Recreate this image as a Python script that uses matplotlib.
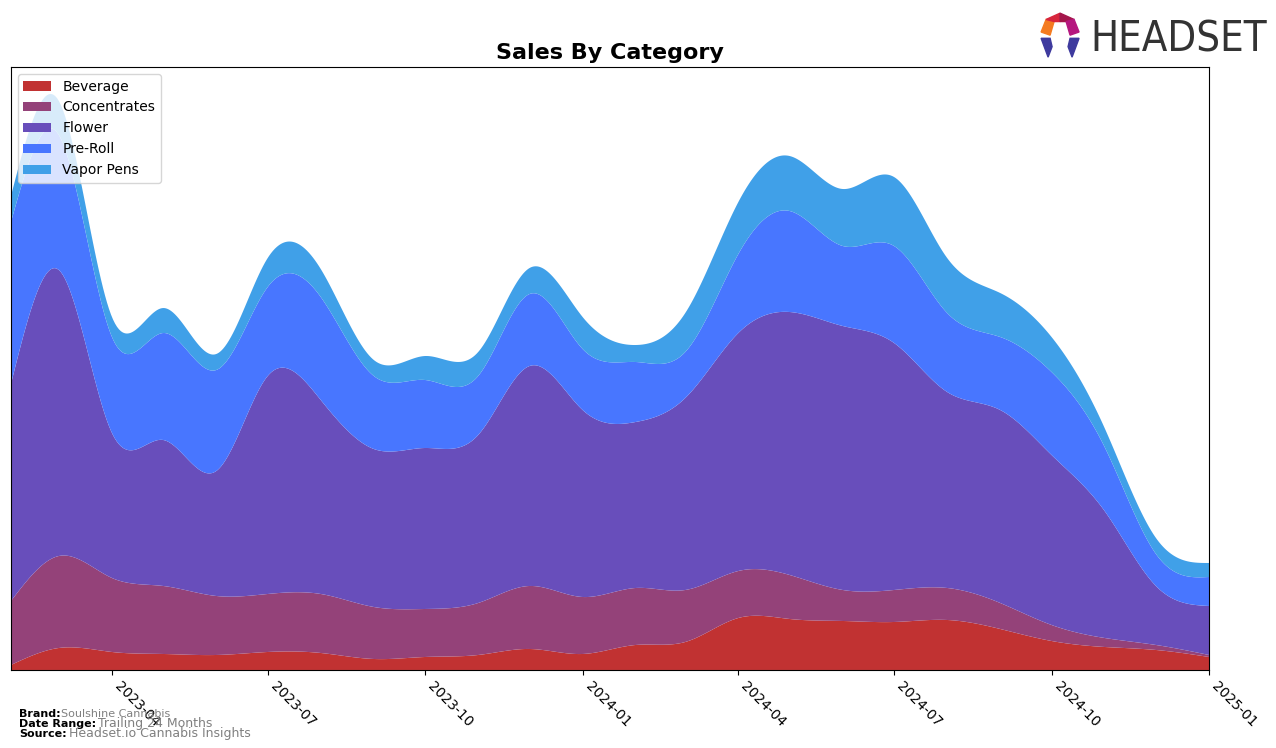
import numpy as np
import pandas as pd
import matplotlib
matplotlib.use("Agg")
import matplotlib.pyplot as plt
import matplotlib.dates as mdates
from matplotlib.patches import Polygon

# monthly sales by category (arbitrary units)
months = pd.date_range("2023-02-01", "2025-01-01", freq="MS")
beverage = [5, 22, 18, 16, 15, 18, 17, 11, 13, 15, 21, 16,
            25, 28, 52, 51, 49, 48, 50, 41, 29, 23, 20, 13]
concentrates = [64, 92, 74, 68, 59, 58, 59, 52, 48, 52, 63, 57,
                57, 52, 47, 44, 31, 32, 32, 26, 16, 9, 5, 2]
flower = [217, 286, 145, 146, 125, 218, 194, 158, 161, 168, 220, 187,
          166, 192, 238, 263, 264, 247, 196, 193, 170, 127, 59, 49]
pre_roll = [162, 135, 96, 107, 101, 89, 103, 73, 68, 59, 72, 61,
            60, 46, 79, 101, 80, 97, 79, 73, 83, 64, 32, 29]
vapor_pens = [26, 34, 20, 25, 16, 29, 28, 16, 24, 24, 26, 32,
              17, 39, 52, 55, 57, 69, 55, 44, 35, 19, 16, 14]

labels = ["Beverage", "Concentrates", "Flower", "Pre-Roll", "Vapor Pens"]
colors = ["#C13232", "#944279", "#684EBB", "#4876FF", "#40A0E8"]


def spline(x, y, xs):
    # natural cubic spline
    x = np.asarray(x, float)
    y = np.asarray(y, float)
    n = len(x)
    h = np.diff(x)
    A = np.zeros((n, n))
    r = np.zeros(n)
    A[0, 0] = 1
    A[-1, -1] = 1
    for i in range(1, n - 1):
        A[i, i - 1] = h[i - 1]
        A[i, i] = 2 * (h[i - 1] + h[i])
        A[i, i + 1] = h[i]
        r[i] = 6 * ((y[i + 1] - y[i]) / h[i] - (y[i] - y[i - 1]) / h[i - 1])
    M = np.linalg.solve(A, r)
    idx = np.clip(np.searchsorted(x, xs) - 1, 0, n - 2)
    x0, x1 = x[idx], x[idx + 1]
    hh = x1 - x0
    return (M[idx] * (x1 - xs) ** 3 / (6 * hh) + M[idx + 1] * (xs - x0) ** 3 / (6 * hh)
            + (y[idx] / hh - M[idx] * hh / 6) * (x1 - xs)
            + (y[idx + 1] / hh - M[idx + 1] * hh / 6) * (xs - x0))


xd = mdates.date2num(months)
xs = np.linspace(xd[0], xd[-1], 600)
series = [beverage, concentrates, flower, pre_roll, vapor_pens]
smooth = [np.clip(spline(xd, s, xs), 0, None) for s in series]

fig = plt.figure(figsize=(12.76, 7.48), dpi=100)
ax = fig.add_axes([0.0086, 0.1043, 0.9389, 0.8061])
ax.stackplot(xs, smooth, labels=labels, colors=colors)
ax.set_xlim(xd[0], xd[-1])
ax.set_ylim(0, 603)
ax.set_yticks([])
ax.xaxis.set_major_locator(mdates.MonthLocator(bymonth=[1, 4, 7, 10]))
ax.xaxis.set_major_formatter(mdates.DateFormatter("%Y-%m"))
plt.setp(ax.get_xticklabels(), rotation=-45, ha="left", fontsize=10)
ax.set_title("Sales By Category", fontsize=16, fontweight="bold")
ax.legend(loc="upper left", fontsize=10)

# footer
fig.text(0.015, 0.041, "Brand:", fontsize=8, fontweight="bold")
fig.text(0.048, 0.041, "Soulshine Cannabis", fontsize=8, color="gray")
fig.text(0.015, 0.028, "Date Range:", fontsize=8, fontweight="bold")
fig.text(0.077, 0.028, "Trailing 24 Months", fontsize=9, color="gray")
fig.text(0.015, 0.015, "Source:", fontsize=8, fontweight="bold")
fig.text(0.054, 0.015, "Headset.io Cannabis Insights", fontsize=9, color="gray")

# logo
lax = fig.add_axes([0.812, 0.918, 0.18, 0.07])
lax.set_xlim(0, 230)
lax.set_ylim(0, 50)
lax.axis("off")
lax.add_patch(Polygon([[5, 28], [10, 40], [18, 38], [14, 25]], color="#F47B20"))
lax.add_patch(Polygon([[10, 40], [24, 46], [24, 38], [18, 38]], color="#D7263D"))
lax.add_patch(Polygon([[24, 46], [38, 40], [30, 38], [24, 38]], color="#A4164B"))
lax.add_patch(Polygon([[38, 40], [43, 28], [34, 25], [30, 38]], color="#B5177F"))
lax.add_patch(Polygon([[5, 22], [14, 22], [16, 14], [12, 4]], color="#3E3A9E"))
lax.add_patch(Polygon([[43, 22], [34, 22], [32, 14], [36, 4]], color="#3E3A9E"))
lax.text(54, 21, "HEADSET", fontsize=30, color="#333333", va="center", ha="left",
         fontfamily="DejaVu Sans", fontstretch="condensed")

fig.savefig("out.png", dpi=100)
